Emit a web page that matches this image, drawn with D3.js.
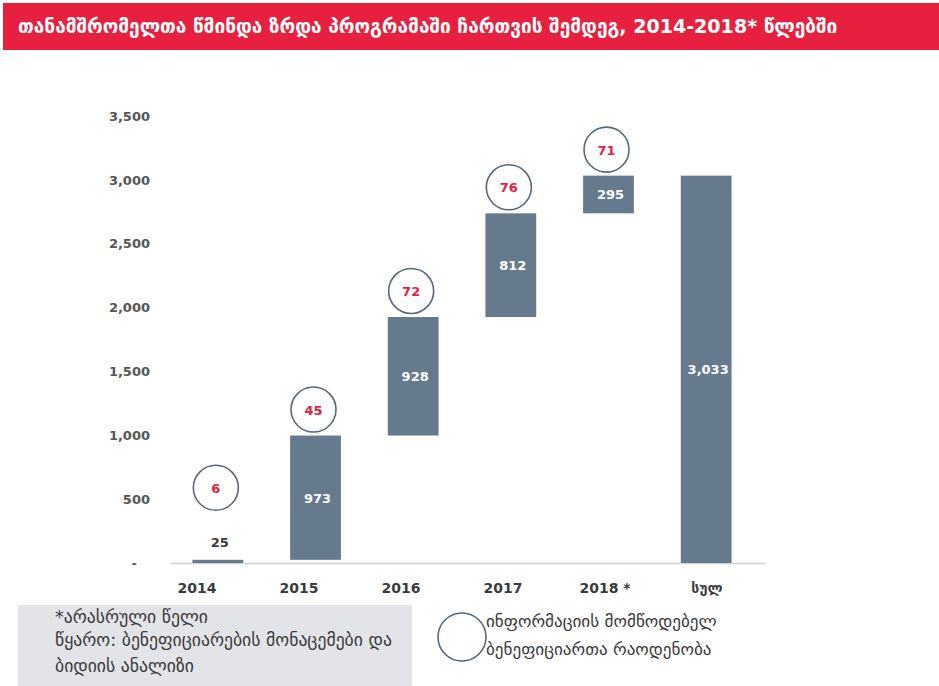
<!DOCTYPE html>
<html><head><meta charset="utf-8">
<script src="https://cdn.jsdelivr.net/npm/d3@7"></script>
<style>body{margin:0;background:#fff}svg{display:block}</style>
</head><body>
<script>
const title = "თანამშრომელთა წმინდა ზრდა პროგრამაში ჩართვის შემდეგ, 2014-2018* წლებში";
const categories = ["2014","2015","2016","2017","2018 *","სულ"];
const increments = [25,973,928,812,295,3033];
const isTotal = [false,false,false,false,false,true];
const informants = [6,45,72,76,71,null];
const yTicks = [0,500,1000,1500,2000,2500,3000,3500];
const footnotes = ["*არასრული წელი","წყარო: ბენეფიციარების მონაცემები და","ბიდიის ანალიზი"];
const legendLines = ["ინფორმაციის მომწოდებელ","ბენეფიციართა რაოდენობა"];

const W=939,H=686;
const svg=d3.select("body").append("svg").attr("width",W).attr("height",H);
const geo="'DejaVu Sans', sans-serif";
const barCol="#667a8e", red="#e8203f", circ="#56687b", txt="#3a3a3a";

// title banner
svg.append("rect").attr("x",3).attr("y",3).attr("width",W-3).attr("height",47).attr("fill",red);
const tt=svg.append("text").attr("x",18).attr("y",33).attr("fill","#fff")
  .style("font-family",geo).style("font-weight","bold").style("font-size","16px").text(title);
function fit(sel,target){const l=sel.node().getComputedTextLength();const fs=parseFloat(sel.style("font-size"));sel.style("font-size",(fs*target/l)+"px");}
fit(tt,820);

// scales
const y=d3.scaleLinear().domain([0,3500]).range([563,116]);
const x=d3.scaleBand().domain(categories).range([169,755]).paddingInner(0.48).paddingOuter(0.24);
const xl=d3.scalePoint().domain(categories).range([197,707]);

// data
let cum=0;
const rows=categories.map((c,i)=>{let b0,b1;if(isTotal[i]){b0=0;b1=increments[i];}else{b0=cum;b1=cum+increments[i];cum=b1;}return {c,v:increments[i],b0,b1,inf:informants[i]};});

// y axis
const yAxis=d3.axisLeft(y).tickValues(yTicks).tickSize(0).tickPadding(0)
  .tickFormat(d=>d===0?"-":d3.format(",")(d));
const ga=svg.append("g").attr("transform","translate(150,0)").call(yAxis);
ga.select(".domain").remove();
ga.selectAll("text").style("font-family","'DejaVu Sans',sans-serif").style("font-size","13px").style("font-weight","bold").attr("fill","#555")
  .attr("dx",d=>d===0?-13:0);

// baseline
svg.append("line").attr("x1",170).attr("x2",765).attr("y1",y(0)+0.5).attr("y2",y(0)+0.5).attr("stroke","#d0d0d0").attr("stroke-width",1.5);

// bars
svg.selectAll("rect.bar").data(rows).join("rect").attr("class","bar")
  .attr("x",d=>x(d.c)).attr("width",x.bandwidth())
  .attr("y",d=>y(d.b1)).attr("height",d=>Math.max(3,y(d.b0)-y(d.b1))).attr("fill",barCol);

// value labels
svg.selectAll("text.val").data(rows).join("text").attr("class","val")
  .attr("x",d=>x(d.c)+x.bandwidth()/2+2)
  .attr("y",d=>{const h=y(d.b0)-y(d.b1);return h<20? y(d.b1)-13 : (y(d.b0)+y(d.b1))/2+5;})
  .attr("text-anchor","middle").attr("fill",d=>(y(d.b0)-y(d.b1))<20?txt:"#fff")
  .style("font-family","'DejaVu Sans',sans-serif").style("font-weight","bold").style("font-size","13px")
  .text(d=>d3.format(",")(d.v));

// informant circles
const ci=rows.filter(d=>d.inf!=null).map(d=>{const h=y(d.b0)-y(d.b1);const cy=h<20? y(d.b1)-72 : y(d.b1)-26;return {...d,cy};});
svg.selectAll("circle.inf").data(ci).join("circle").attr("class","inf")
  .attr("cx",d=>x(d.c)+x.bandwidth()/2-2).attr("cy",d=>d.cy).attr("r",22.5)
  .attr("fill","#fff").attr("stroke",circ).attr("stroke-width",1.6);
svg.selectAll("text.inf").data(ci).join("text").attr("class","inf")
  .attr("x",d=>x(d.c)+x.bandwidth()/2-2).attr("y",d=>d.cy+5).attr("text-anchor","middle")
  .attr("fill",red).style("font-family","'DejaVu Sans',sans-serif").style("font-weight","bold").style("font-size","13px")
  .text(d=>d.inf);

// x labels
svg.selectAll("text.xl").data(categories).join("text").attr("class","xl")
  .attr("x",d=>xl(d)).attr("y",593).attr("text-anchor","middle").attr("fill",txt)
  .style("font-family",geo).style("font-weight","bold").style("font-size","14px").text(d=>d);

// footnote box
svg.append("rect").attr("x",18).attr("y",605).attr("width",394).attr("height",81).attr("fill","#e2e4e8");
const fy=[623,646,672];
const ft=svg.selectAll("text.fn").data(footnotes).join("text").attr("class","fn")
  .attr("x",55).attr("y",(d,i)=>fy[i]).attr("fill",txt)
  .style("font-family",geo).style("font-size","14px").text(d=>d);
{const n=d3.select(ft.nodes()[1]);const l=n.node().getComputedTextLength();const fs=14*337/l;ft.style("font-size",fs+"px");}

// legend
svg.append("circle").attr("cx",462).attr("cy",637).attr("r",24).attr("fill","#fff").attr("stroke",circ).attr("stroke-width",1.6);
const lt=svg.selectAll("text.lg").data(legendLines).join("text").attr("class","lg")
  .attr("x",486).attr("y",(d,i)=>[627,655][i]).attr("fill",txt)
  .style("font-family",geo).style("font-size","14px").text(d=>d);
{const n=d3.select(lt.nodes()[0]);const l=n.node().getComputedTextLength();const fs=14*231/l;lt.style("font-size",fs+"px");}
</script>
</body></html>
